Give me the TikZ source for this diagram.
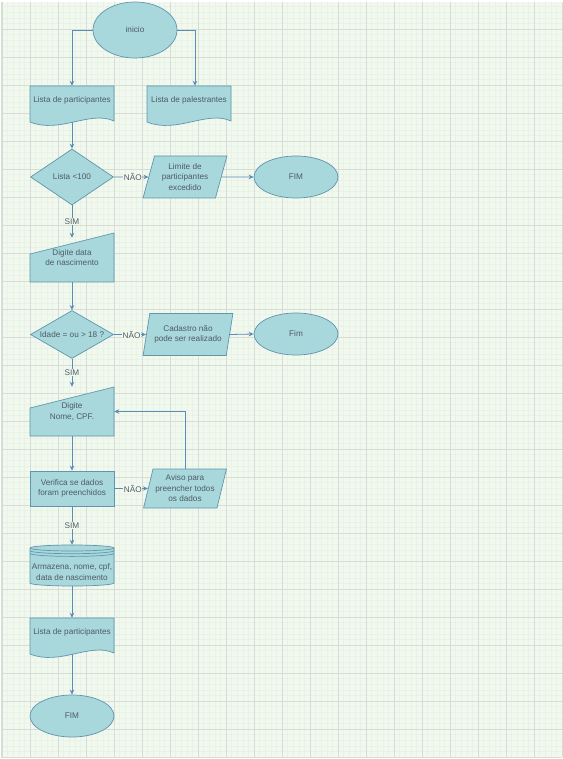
\documentclass[tikz,border=0pt]{standalone}
\usepackage{fontspec}
\setmainfont{Liberation Sans}
\usetikzlibrary{shapes.geometric,arrows.meta,calc}
\definecolor{gridbg}{HTML}{F1F8EE}
\definecolor{gridminor}{HTML}{E8F2E6}
\definecolor{gridmajor}{HTML}{D5DDD5}
\definecolor{shapefill}{HTML}{A8D8DC}
\definecolor{shapeline}{HTML}{5F95AF}
\definecolor{flowline}{HTML}{5A8CB4}
\definecolor{labeltext}{HTML}{4F5B66}

\tikzset{
  txt/.style={font=\fontsize{8.2}{10.5}\selectfont, text=labeltext, align=center},
  outline/.style={fill=shapefill, draw=shapeline, line width=0.7pt},
  terminal/.style={txt, outline, ellipse, inner sep=0pt, minimum width=84pt, minimum height=42pt},
  decision/.style={txt, outline, diamond, inner sep=0pt, minimum width=83pt, minimum height=56pt, aspect=1.5},
  io/.style={txt, outline, trapezium, trapezium left angle=72, trapezium right angle=108,
    trapezium stretches=true, inner sep=0pt, minimum width=84pt, minimum height=42pt},
  process/.style={txt, outline, rectangle, inner sep=0pt, minimum width=84pt, minimum height=35pt},
  plain/.style={txt, inner sep=0pt, minimum width=84pt, minimum height=28pt},
  flow/.style={draw=flowline, line width=0.8pt, -{Stealth[length=5pt,width=4.5pt]}},
  lbl/.style={font=\fontsize{8.2}{10}\selectfont, text=labeltext, fill=gridbg, inner sep=0.6pt}
}

% document: name, left x, top y, text
\newcommand{\docshape}[4]{%
  \filldraw[outline] (#2,#3) -- (#2+84,#3) -- (#2+84,#3+35)
    .. controls (#2+60,#3+24) and (#2+30,#3+48) .. (#2,#3+36) -- cycle;
  \node[plain] (#1) at (#2+42,#3+14) {#4};
}
% manual input: name, left x, top y, text
\newcommand{\manualin}[4]{%
  \filldraw[outline] (#2,#3+21) -- (#2+84,#3) -- (#2+84,#3+49) -- (#2,#3+49) -- cycle;
  \node[plain, minimum height=49pt] (#1) at (#2+42,#3+24.5) {#4};
}
% data store: name, left x, top y, text
\newcommand{\datastore}[4]{%
  \filldraw[outline] (#2,#3+3) -- (#2,#3+38) arc[start angle=180, end angle=0, x radius=42, y radius=3]
    -- (#2+84,#3+3) arc[start angle=0, end angle=-180, x radius=42, y radius=3] -- cycle;
  \draw[draw=shapeline, line width=0.7pt] (#2,#3+3) arc[start angle=180, end angle=0, x radius=42, y radius=3];
  \draw[draw=shapeline, line width=0.7pt] (#2,#3+5.7) arc[start angle=180, end angle=0, x radius=42, y radius=3];
  \draw[draw=shapeline, line width=0.7pt] (#2,#3+8.4) arc[start angle=180, end angle=0, x radius=42, y radius=3];
  \node[plain] (#1) at (#2+42,#3+27) {#4};
}

\begin{document}
\begin{tikzpicture}[x=1pt, y=-1pt]
    \useasboundingbox (0,0) rectangle (562,759);
    %Grid
    \fill[white] (0,0) rectangle (562,759);
    \fill[gridbg] (2,2) rectangle (562,757);
    \begin{scope}[xshift=2pt, yshift=-1pt]
      \draw[gridminor, line width=0.3pt, step=5.6pt] (0,1) grid (560,756);
      \draw[gridmajor, line width=0.5pt, step=28pt] (0,1) grid (560,756);
    \end{scope}
    \draw[gridmajor, line width=0.6pt] (1,2) -- (1,757) -- (562,757);
    %Inicio
    \node[terminal, minimum height=56pt] (inicio) at (135,30) {inicio};
    \docshape{lpart}{30}{86}{Lista de participantes}
    \docshape{lpal}{147}{86}{Lista de palestrantes}
    %Lista
    \node[decision] (lista) at (72,177) {Lista <100};
    \node[io] (limite) at (185,177) {Limite de\\participantes\\excedido};
    \node[terminal] (fim1) at (296,177) {FIM};
    %Idade
    \manualin{data}{30}{233}{Digite data\\de nascimento}
    \node[decision, minimum height=48pt, aspect=1.73] (idade) at (72,334.5) {Idade = ou > 18 ?};
    \node[io, minimum width=90pt] (cadastro) at (188,334.5) {Cadastro não\\pode ser realizado};
    \node[terminal] (fim2) at (296,334) {Fim};
    %Dados
    \manualin{nome}{30}{387}{Digite\\Nome, CPF.}
    \node[process] (verifica) at (72,488.5) {Verifica se dados\\foram preenchidos};
    \node[io, minimum width=83pt, minimum height=39pt] (aviso) at (185,488.5) {Aviso para\\preencher todos\\os dados};
    \datastore{armazena}{30}{545}{Armazena, nome, cpf,\\data de nascimento}
    \docshape{lpart2}{30}{618}{Lista de participantes}
    \node[terminal] (fim3) at (72,716) {FIM};
    %Arrows
    \draw[flow] (inicio.west) -| (lpart.north);
    \draw[flow] (inicio.east) -| ($(lpal.north)+(6,0)$);
    \draw[flow] ($(lpart.south)+(0,8)$) -- (lista.north);
    \draw[flow] (lista.east) -- node[lbl, pos=0.55] {NÃO} (limite.west);
    \draw[flow] (limite.east) -- (fim1.west);
    \draw[flow] (lista.south) -- node[lbl] {SIM} ($(data.north)+(0,5)$);
    \draw[flow] (data.south) -- (idade.north);
    \draw[flow] (idade.east) -- node[lbl, pos=0.55] {NÃO} (cadastro.west);
    \draw[flow] (cadastro.east) -- (fim2.west);
    \draw[flow] (idade.south) -- node[lbl] {SIM} (nome.north);
    \draw[flow] (nome.south) -- (verifica.north);
    \draw[flow] (verifica.east) -- node[lbl, pos=0.55] {NÃO} (aviso.west);
    \draw[flow] (aviso.north) |- (nome.east);
    \draw[flow] (verifica.south) -- node[lbl] {SIM} ($(armazena.north)+(0,-13)$);
    \draw[flow] (armazena.south) -- (lpart2.north);
    \draw[flow] ($(lpart2.south)+(0,8)$) -- (fim3.north);
\end{tikzpicture}
\end{document}
